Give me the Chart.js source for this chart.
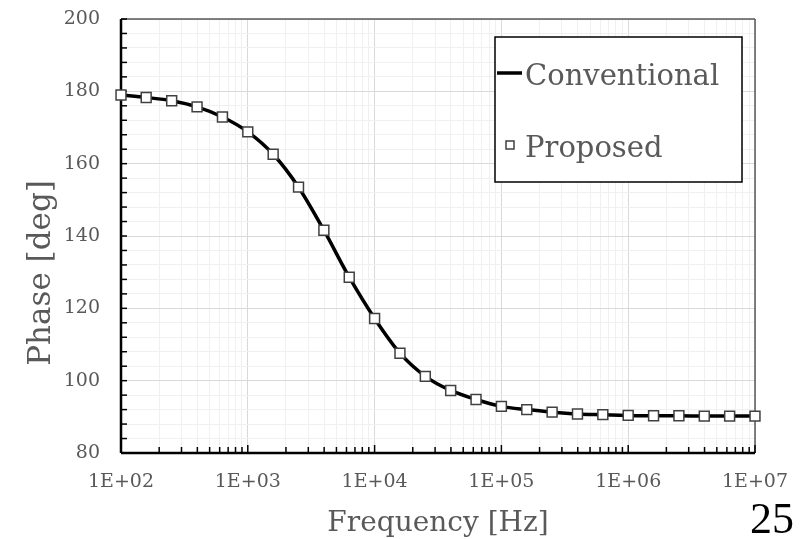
<!DOCTYPE html>
<html>
<head>
<meta charset="utf-8">
<script src="https://cdn.jsdelivr.net/npm/chart.js@4.4.1/dist/chart.umd.min.js"></script>
<style>
  html, body { margin: 0; padding: 0; background: #fff; }
</style>
</head>
<body>
<canvas id="phaseChart" width="805" height="539"></canvas>
<script>
// Frequency points (Hz), 5 per decade
const frequencies = [100, 158, 251, 398, 631, 1000, 1585, 2512, 3981, 6310, 10000, 15849, 25119, 39811, 63096,
  100000, 158489, 251189, 398107, 630957, 1000000, 1584893, 2511886, 3981072, 6309573, 10000000];

// Phase (deg)
const conventionalPhase = [179.0, 178.3, 177.4, 175.7, 172.9, 168.8, 162.6, 153.5, 141.6, 128.6, 117.2, 107.6, 101.2, 97.3, 94.8,
  92.9, 92.0, 91.3, 90.8, 90.6, 90.4, 90.3, 90.3, 90.2, 90.2, 90.2];
const proposedPhase = [179.0, 178.3, 177.4, 175.7, 172.9, 168.8, 162.6, 153.5, 141.6, 128.6, 117.2, 107.6, 101.2, 97.3, 94.8,
  92.9, 92.0, 91.3, 90.8, 90.6, 90.4, 90.3, 90.3, 90.2, 90.2, 90.2];

const seriesLabels = ["Conventional", "Proposed"];
const xTitle = "Frequency [Hz]";
const yTitle = "Phase [deg]";
const pageNumber = "25";

const FONT = "'DejaVu Serif', serif";
const GRAY = "#595959";

function isDecade(v) {
  const l = Math.log10(v);
  return Math.abs(l - Math.round(l)) < 1e-9;
}

// Helper: straight line on the canvas
function line(ctx, x1, y1, x2, y2) {
  ctx.beginPath();
  ctx.moveTo(x1, y1);
  ctx.lineTo(x2, y2);
  ctx.stroke();
}

// Frame, axes and inside tick marks (under the data)
const frame = {
  id: "frame",
  beforeDatasetsDraw(chart) {
    const { ctx, chartArea: a, scales } = chart;
    ctx.save();
    ctx.strokeStyle = GRAY;
    ctx.lineWidth = 1.5;
    line(ctx, a.left, a.top, a.right, a.top);
    line(ctx, a.right, a.top, a.right, a.bottom);

    ctx.strokeStyle = "#000";
    ctx.lineWidth = 1.5;
    scales.x.ticks.forEach((t) => {
      const px = scales.x.getPixelForValue(t.value);
      line(ctx, px, a.bottom, px, a.bottom - (isDecade(t.value) ? 8 : 6));
    });
    scales.y.ticks.forEach((t) => {
      const py = scales.y.getPixelForValue(t.value);
      line(ctx, a.left, py, a.left + 6, py);
    });

    ctx.lineWidth = 2.5;
    line(ctx, a.left, a.top, a.left, a.bottom);
    line(ctx, a.left, a.bottom, a.right, a.bottom);
    ctx.restore();
  }
};

// Legend box, axis titles and page number
const decorations = {
  id: "decorations",
  afterDraw(chart) {
    const { ctx, chartArea: a } = chart;
    ctx.save();

    // legend
    ctx.fillStyle = "#fff";
    ctx.fillRect(495, 37, 247, 145);
    ctx.strokeStyle = "#000";
    ctx.lineWidth = 1.5;
    ctx.strokeRect(495, 37, 247, 145);

    ctx.lineWidth = 3.5;
    line(ctx, 497, 73, 522, 73);
    ctx.fillStyle = "#fff";
    ctx.strokeStyle = "#404040";
    ctx.lineWidth = 1.5;
    ctx.fillRect(506, 141, 8, 8);
    ctx.strokeRect(506, 141, 8, 8);

    ctx.fillStyle = GRAY;
    ctx.font = "29px " + FONT;
    ctx.textAlign = "left";
    ctx.textBaseline = "alphabetic";
    ctx.fillText(seriesLabels[0], 525, 85);
    ctx.fillText(seriesLabels[1], 525, 157);

    // x title
    ctx.font = "28px " + FONT;
    ctx.textAlign = "center";
    ctx.fillText(xTitle, (a.left + a.right) / 2, 531);

    // y title
    ctx.save();
    ctx.translate(50, 273);
    ctx.rotate(-Math.PI / 2);
    ctx.font = "31px " + FONT;
    ctx.fillText(yTitle, 0, 0);
    ctx.restore();

    // page number
    ctx.fillStyle = "#000";
    ctx.font = "44px 'Liberation Serif', serif";
    ctx.textAlign = "left";
    ctx.fillText(pageNumber, 750, 533);

    ctx.restore();
  }
};

const ctx = document.getElementById("phaseChart").getContext("2d");
new Chart(ctx, {
  type: "scatter",
  data: {
    datasets: [
      {
        label: seriesLabels[0],
        data: frequencies.map((f, i) => ({ x: f, y: conventionalPhase[i] })),
        showLine: true,
        borderColor: "#000",
        borderWidth: 3.5,
        pointRadius: 0,
        cubicInterpolationMode: "monotone",
        clip: false,
        order: 1
      },
      {
        label: seriesLabels[1],
        data: frequencies.map((f, i) => ({ x: f, y: proposedPhase[i] })),
        showLine: false,
        pointStyle: "rect",
        pointRadius: 7,
        backgroundColor: "#fff",
        borderColor: "#404040",
        borderWidth: 1.5,
        clip: false,
        order: 0
      }
    ]
  },
  options: {
    responsive: false,
    animation: false,
    layout: { padding: { top: 19, right: 50, left: 0, bottom: 0 } },
    plugins: {
      legend: { display: false },
      tooltip: { enabled: false }
    },
    scales: {
      x: {
        type: "logarithmic",
        min: 100,
        max: 10000000,
        afterBuildTicks(scale) {
          const ticks = [];
          for (let e = 2; e < 7; e++) {
            for (let m = 1; m < 10; m++) ticks.push({ value: m * Math.pow(10, e) });
          }
          ticks.push({ value: 10000000 });
          scale.ticks = ticks;
        },
        afterFit(scale) {
          scale.height = 86;
          scale.paddingLeft = 0;
          scale.paddingRight = 0;
        },
        border: { display: false },
        grid: {
          drawTicks: false,
          color: (c) => (c.tick && isDecade(c.tick.value) ? "#d9d9d9" : "#f0f0f0"),
          lineWidth: 1
        },
        ticks: {
          autoSkip: false,
          maxRotation: 0,
          padding: 18,
          color: GRAY,
          font: { family: FONT, size: 19 },
          callback: (v) => (isDecade(v) ? "1E+" + String(Math.round(Math.log10(v))).padStart(2, "0") : "")
        }
      },
      y: {
        min: 80,
        max: 200,
        afterBuildTicks(scale) {
          const ticks = [];
          for (let v = 80; v <= 200; v += 4) ticks.push({ value: v });
          scale.ticks = ticks;
        },
        afterFit(scale) {
          scale.width = 121;
          scale.paddingTop = 0;
          scale.paddingBottom = 0;
        },
        border: { display: false },
        grid: {
          drawTicks: false,
          color: (c) => (c.tick && c.tick.value % 20 === 0 ? "#d9d9d9" : "#f0f0f0"),
          lineWidth: 1
        },
        ticks: {
          autoSkip: false,
          padding: 21,
          color: GRAY,
          font: { family: FONT, size: 19 },
          callback: (v) => (v % 20 === 0 ? String(v) : "")
        }
      }
    }
  },
  plugins: [frame, decorations]
});
</script>
</body>
</html>
